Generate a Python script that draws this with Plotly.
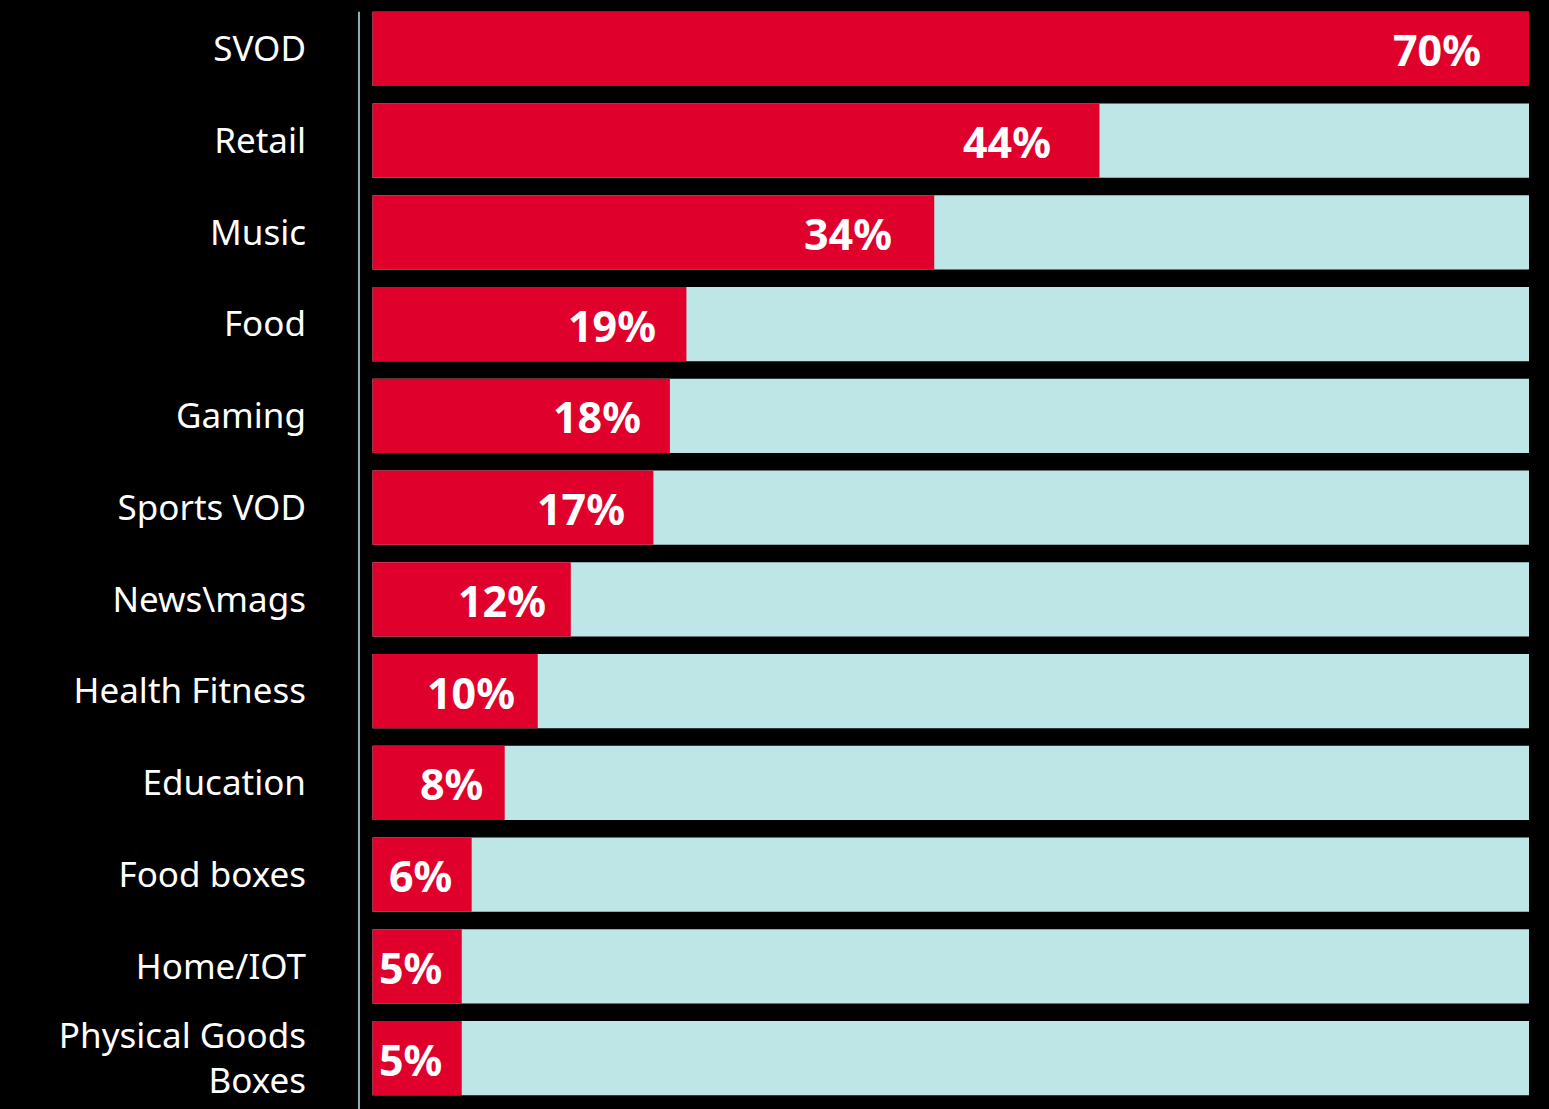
import plotly.graph_objects as go

categories = ["SVOD", "Retail", "Music", "Food", "Gaming", "Sports VOD", "News\\mags",
              "Health Fitness", "Education", "Food boxes", "Home/IOT", "Physical Goods<br>Boxes"]
values = [70, 44, 34, 19, 18, 17, 12, 10, 8, 6, 5.4, 5.4]
scale_max = 70

RED = "#DF002C"
CYAN = "#BEE6E6"

fig = go.Figure()
fig.add_trace(go.Bar(y=categories, x=[scale_max] * len(categories), orientation="h",
                     marker=dict(color=CYAN, line=dict(width=0)), hoverinfo="skip"))
fig.add_trace(go.Bar(y=categories, x=values, orientation="h",
                     marker=dict(color=RED, line=dict(width=0))))

for c, v in zip(categories, values):
    gap = min(13 + 0.8 * v, 46)
    fig.add_annotation(x=v, y=c, text=f"<b>{round(v)}%</b>", showarrow=False, xanchor="right",
                       yanchor="middle", xshift=-gap, yshift=-1,
                       font=dict(family="Noto Sans", size=43, color="white"))

fig.add_shape(type="line", xref="paper", yref="paper", x0=0, x1=0, y0=-0.006, y1=0.992,
              line=dict(color=CYAN, width=1.5))

fig.update_layout(
    width=1549, height=1109,
    paper_bgcolor="black", plot_bgcolor="black",
    barmode="overlay", bargap=0.19, showlegend=False,
    margin=dict(l=359, r=20, t=3, b=5),
    font=dict(family="Noto Sans", color="white"),
    xaxis=dict(range=[-0.82, scale_max], visible=False, showgrid=False, zeroline=False),
    yaxis=dict(autorange="reversed", showgrid=False, zeroline=False, showline=False,
               ticks="", ticklabelstandoff=52,
               tickfont=dict(family="Noto Sans", size=35, color="white")),
)

fig.write_html("out.html", config={"displayModeBar": False},
               post_script="document.body.style.margin='0';document.body.style.overflow='hidden';")
